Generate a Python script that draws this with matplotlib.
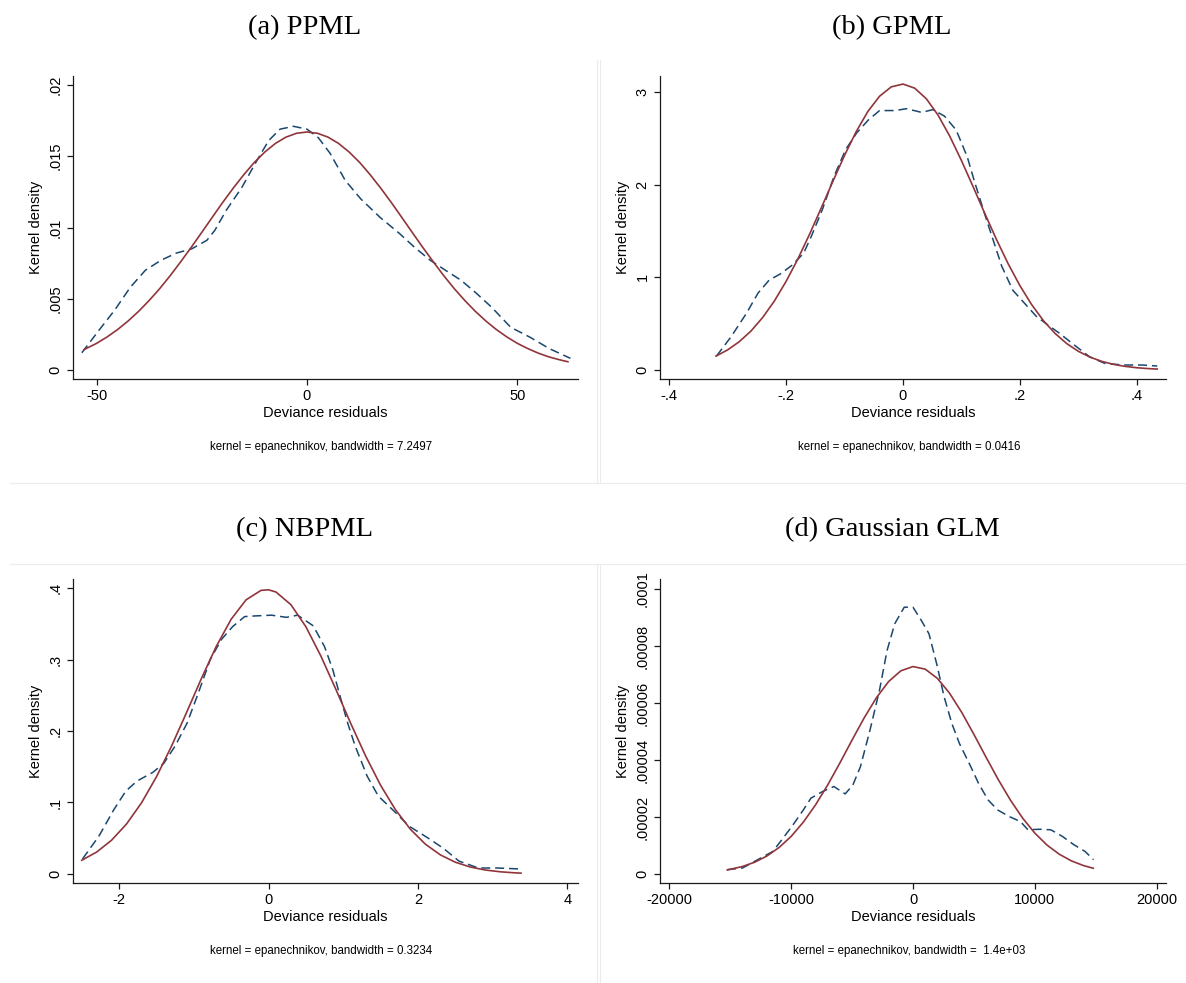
import numpy as np
import matplotlib.pyplot as plt
from matplotlib.lines import Line2D

# (a) PPML: kernel density (dashed) and normal density (solid)
ppml_kx = [-53.5, -49.4, -45.7, -42.0, -38.4, -34.7, -31.1, -27.4, -23.8, -21.9, -19.2,
           -15.5, -11.9, -9.1, -6.4, -3.2, 0.0, 2.7, 5.5, 9.1, 12.8, 17.4, 21.9, 25.6,
           29.3, 32.9, 36.6, 40.2, 43.9, 48.4, 53.0, 57.6, 62.6]
ppml_ky = [0.00121, 0.0028, 0.0042, 0.0058, 0.0070, 0.0077, 0.0082, 0.0085, 0.0091, 0.0098,
           0.0112, 0.0128, 0.0147, 0.0161, 0.0169, 0.0171, 0.0169, 0.0163, 0.0152, 0.0133,
           0.0120, 0.0107, 0.0096, 0.0086, 0.0077, 0.0070, 0.0063, 0.0054, 0.0044, 0.0030,
           0.0023, 0.0015, 0.00082]
ppml_nx = [-53, -50, -47.5, -45, -42.5, -40, -37.5, -35, -32.5, -30, -27.5, -25, -22.5,
           -20, -17.5, -15, -12.5, -10, -7.5, -5, -2.5, 0, 2.5, 5, 7.5, 10, 12.5, 15, 17.5,
           20, 22.5, 25, 27.5, 30, 32.5, 35, 37.5, 40, 42.5, 45, 47.5, 50, 52.5, 55, 57.5,
           60, 62]
ppml_ny = [0.00143, 0.00187, 0.00232, 0.00284, 0.00344, 0.00412, 0.00488, 0.00571, 0.00662,
           0.00760, 0.00861, 0.00966, 0.01072, 0.01177, 0.01277, 0.01371, 0.01457, 0.01530,
           0.01590, 0.01634, 0.01661, 0.0167, 0.01661, 0.01634, 0.01590, 0.01530, 0.01457,
           0.01371, 0.01277, 0.01177, 0.01072, 0.00966, 0.00861, 0.00760, 0.00662, 0.00571,
           0.00488, 0.00412, 0.00344, 0.00284, 0.00232, 0.00187, 0.00150, 0.00118, 0.00092,
           0.00072, 0.00058]

# (b) GPML
gpml_kx = [-0.319, -0.294, -0.268, -0.248, -0.229, -0.209, -0.190, -0.170, -0.157, -0.138,
           -0.118, -0.098, -0.079, -0.059, -0.040, -0.014, 0.006, 0.032, 0.051, 0.071,
           0.091, 0.110, 0.123, 0.143, 0.156, 0.169, 0.188, 0.208, 0.228, 0.247, 0.267,
           0.293, 0.319, 0.345, 0.377, 0.410, 0.435]
gpml_ky = [0.151, 0.36, 0.61, 0.83, 0.97, 1.04, 1.13, 1.26, 1.44, 1.73, 2.09, 2.38, 2.56,
           2.70, 2.80, 2.80, 2.82, 2.78, 2.81, 2.74, 2.59, 2.30, 2.02, 1.62, 1.37, 1.12,
           0.86, 0.72, 0.58, 0.49, 0.40, 0.27, 0.144, 0.072, 0.054, 0.054, 0.043]
gpml_nx = [-0.32, -0.30, -0.28, -0.26, -0.24, -0.22, -0.20, -0.18, -0.16, -0.14, -0.12,
           -0.10, -0.08, -0.06, -0.04, -0.02, 0.0, 0.02, 0.04, 0.06, 0.08, 0.10, 0.12, 0.14,
           0.16, 0.18, 0.20, 0.22, 0.24, 0.26, 0.28, 0.30, 0.32, 0.34, 0.36, 0.38, 0.40,
           0.42, 0.435]
gpml_ny = [0.150, 0.217, 0.306, 0.421, 0.567, 0.745, 0.956, 1.196, 1.463, 1.746, 2.035,
           2.316, 2.573, 2.791, 2.955, 3.056, 3.086, 3.042, 2.927, 2.751, 2.524, 2.261,
           1.978, 1.689, 1.408, 1.146, 0.911, 0.707, 0.535, 0.396, 0.286, 0.202, 0.139,
           0.0935, 0.0613, 0.0393, 0.0246, 0.0150, 0.0102]

# (c) NBPML
nbpml_kx = [-2.49, -2.27, -2.07, -1.91, -1.76, -1.55, -1.40, -1.25, -1.09, -0.94, -0.78,
            -0.63, -0.48, -0.32, -0.17, 0.04, 0.24, 0.39, 0.60, 0.75, 0.86, 0.96, 1.06,
            1.16, 1.32, 1.47, 1.68, 1.88, 2.14, 2.34, 2.55, 2.81, 3.06, 3.37]
nbpml_ky = [0.021, 0.053, 0.090, 0.116, 0.130, 0.142, 0.155, 0.179, 0.211, 0.253, 0.300,
            0.328, 0.346, 0.360, 0.361, 0.362, 0.359, 0.362, 0.347, 0.318, 0.286, 0.248,
            0.211, 0.179, 0.137, 0.109, 0.088, 0.067, 0.050, 0.036, 0.018, 0.0084, 0.0084,
            0.0070]
nbpml_nx = [-2.5, -2.3, -2.1, -1.9, -1.7, -1.5, -1.3, -1.1, -0.9, -0.7, -0.5, -0.3, -0.1,
            0.0, 0.1, 0.3, 0.5, 0.7, 0.9, 1.1, 1.3, 1.5, 1.7, 1.9, 2.1, 2.3, 2.5, 2.7, 2.9,
            3.1, 3.3, 3.38]
nbpml_ny = [0.0192, 0.0307, 0.0473, 0.0700, 0.0995, 0.1359, 0.1784, 0.2251, 0.2730, 0.3182,
            0.3563, 0.3835, 0.3967, 0.3975, 0.3944, 0.3767, 0.3459, 0.3051, 0.2587, 0.2108,
            0.1651, 0.1242, 0.0898, 0.0625, 0.0417, 0.0268, 0.0165, 0.0098, 0.0056, 0.0031,
            0.0016, 0.0012]

# (d) Gaussian GLM
glm_kx = [-15260, -14000, -12760, -11510, -10880, -9940, -9000, -8380, -7440, -6500, -5570,
          -4940, -4320, -3530, -2750, -2130, -1500, -720, 0, 690, 1310, 1940, 2560, 3190,
          3810, 4750, 5380, 6160, 6940, 7880, 8820, 9440, 10380, 11320, 12260, 13200,
          14130, 14820]
glm_ky = [0.15e-5, 0.21e-5, 0.50e-5, 0.79e-5, 1.14e-5, 1.67e-5, 2.25e-5, 2.66e-5, 2.89e-5,
          3.07e-5, 2.81e-5, 3.12e-5, 3.76e-5, 5.05e-5, 6.45e-5, 7.84e-5, 8.78e-5, 9.36e-5,
          9.36e-5, 8.89e-5, 8.43e-5, 7.38e-5, 6.21e-5, 5.28e-5, 4.58e-5, 3.76e-5, 3.18e-5,
          2.60e-5, 2.25e-5, 2.02e-5, 1.84e-5, 1.55e-5, 1.57e-5, 1.55e-5, 1.32e-5, 1.03e-5,
          0.79e-5, 0.50e-5]
glm_nx = [-15250, -14000, -13000, -12000, -11000, -10000, -9000, -8000, -7000, -6000, -5000,
          -4000, -3000, -2000, -1000, 0, 1000, 2000, 3000, 4000, 5000, 6000, 7000, 8000,
          9000, 10000, 11000, 12000, 13000, 14000, 14800]
glm_ny = [0.142e-5, 0.263e-5, 0.413e-5, 0.629e-5, 0.928e-5, 1.321e-5, 1.821e-5, 2.426e-5,
          3.127e-5, 3.897e-5, 4.702e-5, 5.484e-5, 6.187e-5, 6.753e-5, 7.128e-5, 7.278e-5,
          7.188e-5, 6.865e-5, 6.344e-5, 5.670e-5, 4.899e-5, 4.096e-5, 3.313e-5, 2.592e-5,
          1.961e-5, 1.435e-5, 1.016e-5, 0.696e-5, 0.461e-5, 0.295e-5, 0.202e-5]

titles = ["(a) PPML", "(b) GPML", "(c) NBPML", "(d) Gaussian GLM"]
bandwidths = ["7.2497", "0.0416", "0.3234", " 1.4e+03"]

xticks = [[-50, 0, 50], [-0.4, -0.2, 0, 0.2, 0.4], [-2, 0, 2, 4],
          [-20000, -10000, 0, 10000, 20000]]
xticklabels = [["-50", "0", "50"], ["-.4", "-.2", "0", ".2", ".4"], ["-2", "0", "2", "4"],
               ["-20000", "-10000", "0", "10000", "20000"]]
yticks = [[0, 0.005, 0.01, 0.015, 0.02], [0, 1, 2, 3], [0, 0.1, 0.2, 0.3, 0.4],
          [0, 2e-5, 4e-5, 6e-5, 8e-5, 1e-4]]
yticklabels = [["0", ".005", ".01", ".015", ".02"], ["0", "1", "2", "3"],
               ["0", ".1", ".2", ".3", ".4"],
               ["0", ".00002", ".00004", ".00006", ".00008", ".0001"]]

W, H = 1186, 983
plt.rcParams['font.family'] = ['Liberation Sans', 'DejaVu Sans']
plt.rcParams['lines.scale_dashes'] = False

fig = plt.figure(figsize=(W / 100, H / 100), dpi=100)


def fx(px):
    return px / W


def fy(py):
    return 1 - py / H


# axes boxes in pixels (left, top, right, bottom) and data limits
boxes = [(73, 76, 578, 379), (660, 76, 1166, 379), (73, 579, 578, 883), (660, 579, 1166, 883)]
xlims = [(-55.6, 64.4), (-0.4157, 0.45), (-2.617, 4.143), (-20772, 20772)]
ylims = [(-0.00063, 0.02063), (-0.097, 3.173), (-0.0126, 0.4126), (-3.16e-6, 1.035e-4)]
title_y = [28, 28, 530, 530]
title_x = [305, 892, 305, 892]

kernels = [(ppml_kx, ppml_ky), (gpml_kx, gpml_ky), (nbpml_kx, nbpml_ky), (glm_kx, glm_ky)]
normals = [(ppml_nx, ppml_ny), (gpml_nx, gpml_ny), (nbpml_nx, nbpml_ny), (glm_nx, glm_ny)]

axcol = '#1a1a1a'
for i in range(4):
    l, t, r, b = boxes[i]
    ax = fig.add_axes([fx(l), fy(b), (r - l) / W, (b - t) / H])
    kx, ky = kernels[i]
    nx, ny = normals[i]
    ax.plot(kx, ky, color='#1a476f', lw=1.1, dashes=(6.5, 3.5))
    ax.plot(nx, ny, color='#90353b', lw=1.2)
    ax.set_xlim(*xlims[i])
    ax.set_ylim(*ylims[i])
    for s in ['top', 'right']:
        ax.spines[s].set_visible(False)
    for s in ['left', 'bottom']:
        ax.spines[s].set_color(axcol)
        ax.spines[s].set_linewidth(0.9)
    ax.set_xticks(xticks[i])
    ax.set_xticklabels(xticklabels[i])
    ax.set_yticks(yticks[i])
    ax.set_yticklabels(yticklabels[i], rotation=90, va='center')
    ax.tick_params(direction='out', length=4, width=0.9, color=axcol,
                   labelsize=10.5, pad=3.5)

    cx = (l + r) / 2
    fig.text(fx(cx), fy(b + 34), "Deviance residuals", ha='center', va='center',
             fontsize=10.5)
    fig.text(fx(l - 37), fy((t + b) / 2), "Kernel density", ha='center', va='center',
             rotation=90, fontsize=10.5)
    fig.text(fx(cx - 4), fy(b + 68), "kernel = epanechnikov, bandwidth = " + bandwidths[i],
             ha='center', va='center', fontsize=8.3)
    fig.text(fx(title_x[i]), fy(title_y[i]), titles[i], ha='center', va='center',
             fontsize=20.5, family='Liberation Serif')

# faint borders of the four sub-graphs
gcol = '#ececec'
segs = [((10, 600), (483, 483)), ((600, 600), (60, 483)),
        ((597, 1186), (483, 483)), ((597, 597), (60, 483)),
        ((10, 600), (564, 564)), ((600, 600), (564, 983)),
        ((597, 1186), (564, 564)), ((597, 597), (564, 983))]
for xs, ys in segs:
    fig.add_artist(Line2D([fx(xs[0]), fx(xs[1])], [fy(ys[0]), fy(ys[1])],
                          color=gcol, lw=0.8))

fig.savefig("out.png", dpi=100)
